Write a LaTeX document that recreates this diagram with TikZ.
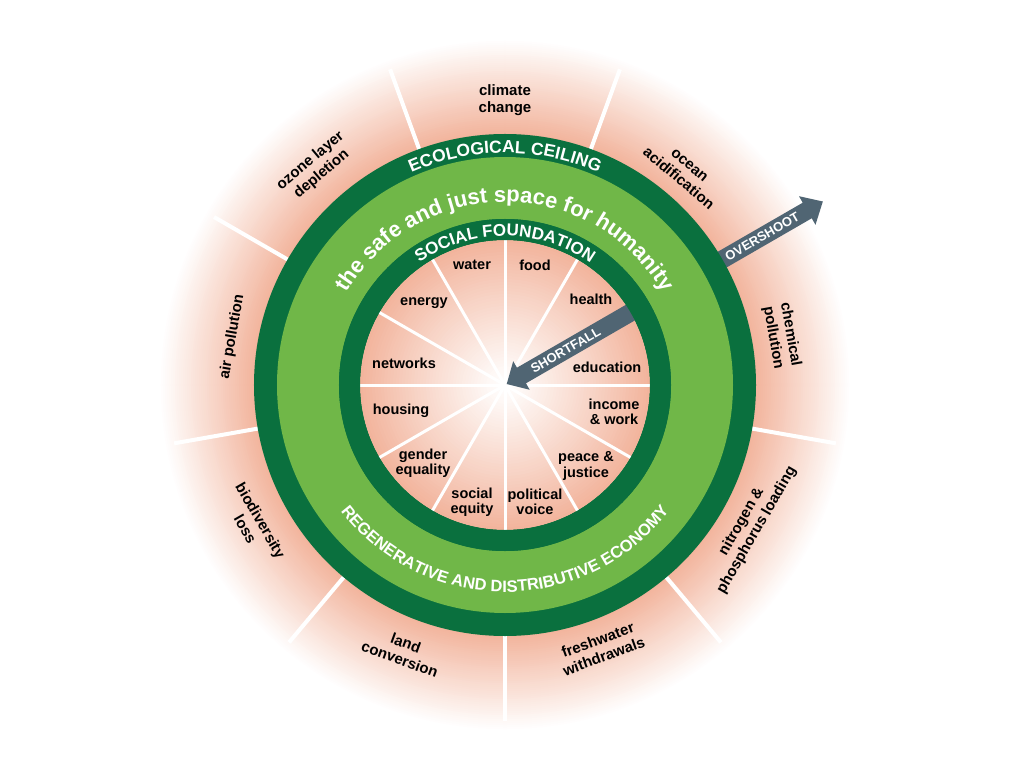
\documentclass[tikz,border=0pt]{standalone}
\usepackage{fontspec}
\setmainfont{Liberation Sans}
\usetikzlibrary{decorations.text}
\definecolor{dkgreen}{RGB}{10,112,62}
\definecolor{ltgreen}{RGB}{112,183,72}
\definecolor{pinkc}{RGB}{242,180,156}
\definecolor{slate}{RGB}{80,101,115}
\begin{document}
\begin{tikzpicture}[x=1pt,y=1pt,
  inlab/.style={font=\fontsize{14.5}{15.5}\selectfont\bfseries, align=center, text=black, inner sep=0pt},
  outlab/.style={font=\fontsize{15}{17.5}\selectfont\bfseries, align=center, text=black, inner sep=0pt},
  arrlab/.style={font=\fontsize{13}{13}\selectfont\bfseries, text=white, inner sep=0pt},
  divider/.style={white, line width=4pt},
  spoke/.style={white, line width=3pt},
]
\useasboundingbox (-505,-383) rectangle (519,385);
\fill[white] (-505,-383) rectangle (519,385);
% outer glow
\foreach \r in {346,344,...,252} {
  \pgfmathtruncatemacro\p{100*(346-\r)/94}
  \fill[pinkc!\p!white] (0,0) circle (\r);
}
% dividers of the ecological ceiling
\foreach \a in {110,70,30,-10,-50,-90,-130,-170,150}
  \draw[divider] (\a:249) -- (\a:336);
% overshoot arrow
\begin{scope}[rotate=30]
\fill[slate] (238,-9) -- (349,-9) -- (349,-16.5) -- (367,0) -- (349,16.5) -- (349,9) -- (238,9) -- cycle;
\node[arrlab, rotate=30] (overshoot) at (297,0) {OVERSHOOT};
\end{scope}
% rings
\fill[dkgreen] (0,0) circle (251);
\fill[ltgreen] (0,0) circle (228);
\fill[dkgreen] (0,0) circle (166);
% inner disc
\foreach \r in {145,142,...,1} {
  \pgfmathtruncatemacro\p{100*(\r/145)^1.1}
  \fill[pinkc!\p!white] (0,0) circle (\r);
}
\foreach \a in {0,30,...,330}
  \draw[spoke] (0,0) -- (\a:146);
% shortfall arrow
\begin{scope}[rotate=30]
\fill[slate] (2,0) -- (19,16.5) -- (19,9) -- (160,9) -- (160,-9) -- (19,-9) -- (19,-16.5) -- cycle;
\node[arrlab, rotate=30] (shortfall) at (70,0) {SHORTFALL};
\end{scope}
\fill[dkgreen, even odd rule] (0,0) circle (166) (0,0) circle (145);
% ring texts
\path[decorate, decoration={text along path, text={|\fontsize{17.5}{17.5}\selectfont\bfseries|ECOLOGICAL CEILING}, text color=white, text align=center}] (180:232) arc[start angle=180, end angle=0, radius=232];
\path[decorate, decoration={text along path, text={|\fontsize{22}{22}\selectfont\bfseries|the safe and just space for humanity}, text color=white, text align=center}] (180:183) arc[start angle=180, end angle=0, radius=183];
\path[decorate, decoration={text along path, text={|\fontsize{17}{17}\selectfont\bfseries|SOCIAL FOUNDATION}, text color=white, text align=center}] (180:149) arc[start angle=180, end angle=0, radius=149];
\path[decorate, decoration={text along path, text={|\fontsize{16.5}{16.5}\selectfont\bfseries|REGENERATIVE AND DISTRIBUTIVE ECONOMY}, text color=white, text align=center}] (180:207) arc[start angle=180, end angle=360, radius=207];
% outer labels
\node[outlab] (climate) at (90:285) {climate\\change};
\node[outlab, rotate=-40] (ocean) at (50:278) {ocean\\acidification};
\node[outlab, rotate=-80] (chemical) at (10:281) {chemical\\pollution};
\node[outlab, rotate=60] (nitrogen) at (-30:282) {nitrogen \&\\phosphorus loading};
\node[outlab, rotate=20] (freshwater) at (-70:280) {freshwater\\withdrawals};
\node[outlab, rotate=-20] (land) at (-111:285) {land\\conversion};
\node[outlab, rotate=-60] (biodiv) at (-151:288) {biodiversity\\loss};
\node[outlab, rotate=80] (air) at (170:277) {air pollution};
\node[outlab, rotate=40] (ozone) at (131:288) {ozone layer\\depletion};
% inner labels
\node[inlab] (water) at (-33,120) {water};
\node[inlab] (food) at (30,120) {food};
\node[inlab] (energy) at (-81,82) {energy};
\node[inlab] (health) at (86,86) {health};
\node[inlab] (networks) at (-101,22) {networks};
\node[inlab] (education) at (102,18) {education};
\node[inlab] (housing) at (-104,-26) {housing};
\node[inlab] (income) at (109,-27) {income\\\& work};
\node[inlab] (gender) at (-82,-78) {gender\\equality};
\node[inlab] (peace) at (81,-81) {peace \&\\justice};
\node[inlab] (social) at (-33,-117) {social\\equity};
\node[inlab] (political) at (30,-117) {political\\voice};
\end{tikzpicture}
\end{document}
